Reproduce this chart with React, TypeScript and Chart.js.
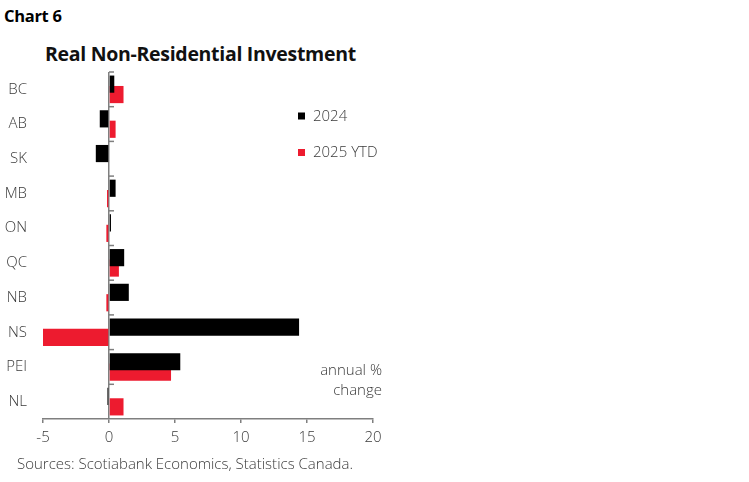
import { useEffect, useRef } from "react";
import { Chart, registerables, type ChartConfiguration, type Plugin } from "chart.js";

Chart.register(...registerables);

const provinces = ["BC", "AB", "SK", "MB", "ON", "QC", "NB", "NS", "PEI", "NL"];
const series2024 = [0.4, -0.7, -1.0, 0.5, 0.15, 1.15, 1.5, 14.4, 5.4, -0.12];
const series2025Ytd = [1.1, 0.5, 0.0, -0.15, -0.2, 0.75, -0.2, -5.0, 4.7, 1.1];
const xTicks = [-5, 0, 5, 10, 15, 20];

const BLACK = "#000000";
const RED = "#ED1B2F";
const TEXT = "#3a3a3a";
const AXIS = "#7f7f7f";
const FONT = "'Open Sans', sans-serif";

// zero line tick marks, legend and unit note
const extras: Plugin<"bar"> = {
  id: "extras",
  afterDatasetsDraw(chart) {
    const { ctx, chartArea, scales } = chart;
    const x0 = scales.x.getPixelForValue(0);
    const y = scales.y;
    const step = (chartArea.bottom - chartArea.top) / provinces.length;
    ctx.save();
    ctx.strokeStyle = AXIS;
    ctx.lineWidth = 1.5;
    for (let i = 0; i < provinces.length; i++) {
      const yy = y.getPixelForValue(i) - step / 2;
      ctx.beginPath();
      ctx.moveTo(x0, yy);
      ctx.lineTo(x0 + 5, yy);
      ctx.stroke();
    }

    ctx.font = `300 15px ${FONT}`;
    ctx.textBaseline = "middle";
    const legend = [
      { label: "2024", color: BLACK, dy: 44 },
      { label: "2025 YTD", color: RED, dy: 80.5 },
    ];
    const lx = chartArea.left + 255;
    legend.forEach((l) => {
      const ly = chartArea.top + l.dy;
      ctx.fillStyle = l.color;
      ctx.fillRect(lx, ly - 3.5, 7, 7);
      ctx.fillStyle = TEXT;
      ctx.textAlign = "left";
      ctx.fillText(l.label, lx + 15, ly + 0.5);
    });

    ctx.textAlign = "right";
    ctx.fillStyle = TEXT;
    ctx.fillText("annual %", chartArea.right + 9, chartArea.top + 299);
    ctx.fillText("change", chartArea.right + 9, chartArea.top + 319);
    ctx.restore();
  },
};

function BarChart() {
  const canvasRef = useRef<HTMLCanvasElement>(null);

  useEffect(() => {
    const canvas = canvasRef.current;
    if (!canvas) return;

    const config: ChartConfiguration<"bar"> = {
      type: "bar",
      data: {
        labels: provinces,
        datasets: [
          {
            label: "2024",
            data: series2024,
            backgroundColor: BLACK,
            categoryPercentage: 0.6,
            barPercentage: 1.65,
          },
          {
            label: "2025 YTD",
            data: series2025Ytd,
            backgroundColor: RED,
            categoryPercentage: 0.6,
            barPercentage: 1.65,
          },
        ],
      },
      options: {
        indexAxis: "y",
        responsive: false,
        animation: false,
        layout: { padding: { top: 11, right: 27, left: 0, bottom: 0 } },
        plugins: {
          legend: { display: false },
          tooltip: { enabled: false },
        },
        scales: {
          x: {
            type: "linear",
            min: xTicks[0],
            max: xTicks[xTicks.length - 1],
            afterBuildTicks: (scale) => {
              scale.ticks = xTicks.map((v) => ({ value: v }));
            },
            afterFit: (scale) => {
              scale.height = 40;
            },
            border: { display: true, color: AXIS, width: 1.5 },
            grid: {
              color: (c) => (c.tick && c.tick.value === 0 ? AXIS : "rgba(0,0,0,0)"),
              lineWidth: 1.5,
              tickColor: AXIS,
              tickLength: 4,
              drawTicks: true,
            },
            ticks: {
              color: TEXT,
              font: { family: FONT, size: 15, weight: 300 },
              padding: 6,
              maxRotation: 0,
            },
          },
          y: {
            type: "category",
            afterFit: (scale) => {
              scale.width = 43;
            },
            border: { display: false },
            grid: { display: false, drawTicks: false },
            ticks: {
              color: TEXT,
              font: { family: FONT, size: 15, weight: 300 },
              padding: 16,
            },
          },
        },
      },
      plugins: [extras],
    };

    const chart = new Chart(canvas, config);
    return () => chart.destroy();
  }, []);

  return (
    <canvas
      ref={canvasRef}
      width={400}
      height={412}
      style={{ position: "absolute", left: 0, top: 47, width: 400, height: 412 }}
    />
  );
}

export default function App() {
  useEffect(() => {
    document.body.style.margin = "0";
  }, []);

  return (
    <div
      style={{
        position: "relative",
        width: 749,
        height: 482,
        background: "#fff",
        fontFamily: FONT,
        color: TEXT,
        overflow: "hidden",
      }}
    >
      <div
        style={{
          position: "absolute",
          left: 4,
          top: 4,
          fontSize: 16.5,
          fontWeight: 700,
          color: "#000",
          letterSpacing: -0.3,
        }}
      >
        Chart 6
      </div>
      <div
        style={{
          position: "absolute",
          left: 45,
          top: 40,
          fontSize: 19.5,
          fontWeight: 700,
          color: "#111",
          letterSpacing: -0.3,
        }}
      >
        Real Non-Residential Investment
      </div>
      <BarChart />
      <div
        style={{
          position: "absolute",
          left: 17,
          top: 453,
          fontSize: 15,
          fontWeight: 300,
          color: TEXT,
        }}
      >
        Sources: Scotiabank Economics, Statistics Canada.
      </div>
    </div>
  );
}
